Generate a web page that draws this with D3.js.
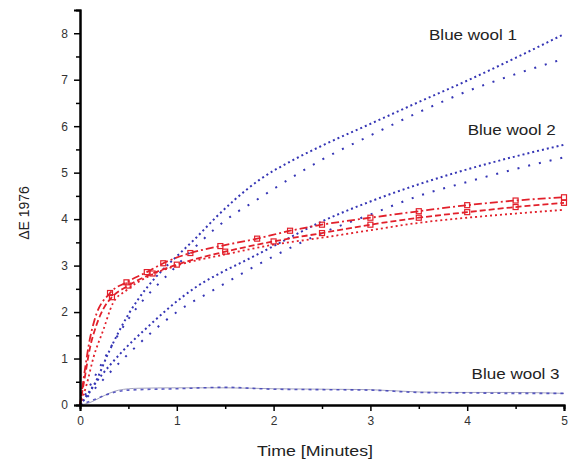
<!DOCTYPE html>
<html><head><meta charset="utf-8">
<script src="https://cdn.jsdelivr.net/npm/d3@7"></script>
<style>body{margin:0;background:#fff}svg{display:block}text{font-family:"Liberation Sans",Arial,sans-serif}</style>
</head><body>
<svg id="c" width="575" height="467"></svg>
<script>
const xTicks = [0,1,2,3,4,5];
const yTicks = [0,1,2,3,4,5,6,7,8];
const bw1A = [[0,0],[0.15,0.45],[0.3,1.15],[0.5,1.95],[0.7,2.55],[0.85,2.9],[1,3.2],[1.2,3.6],[1.4,4.03],[1.6,4.42],[1.85,4.84],[2.2,5.27],[2.5,5.58],[3,6.05],[3.5,6.52],[4,6.98],[4.5,7.47],[5,7.98]];
const bw1B = [[0,0],[0.5,1.85],[1,3.0],[1.2,3.42],[1.4,3.8],[1.6,4.12],[1.8,4.38],[2,4.65],[2.5,5.28],[3,5.8],[3.5,6.3],[4,6.75],[4.5,7.12],[5,7.45]];
const bw2A = [[0,0],[0.17,0.5],[0.45,1.18],[0.7,1.68],[0.93,2.11],[1.2,2.54],[1.45,2.84],[1.72,3.12],[2,3.42],[2.5,3.95],[3,4.38],[3.5,4.75],[4,5.07],[4.5,5.35],[5,5.6]];
const bw2B = [[0,0],[0.5,1.1],[1,2.0],[1.4,2.5],[2,3.2],[2.5,3.7],[3,4.1],[3.5,4.5],[4,4.8],[4.5,5.08],[5,5.33]];
const redA = [[0,0],[0.05,0.75],[0.1,1.4],[0.15,1.83],[0.31,2.41],[0.48,2.64],[0.69,2.86],[0.86,3.05],[1.14,3.27],[1.45,3.42],[1.83,3.58],[2.17,3.75],[2.5,3.88],[3,4.03],[3.5,4.17],[4,4.3],[4.5,4.4],[5,4.47]];
const redB = [[0,0],[0.05,0.6],[0.1,1.2],[0.17,1.72],[0.25,2.1],[0.33,2.32],[0.5,2.57],[0.75,2.83],[1,3.02],[1.5,3.3],[2,3.52],[2.5,3.7],[3,3.88],[3.5,4.03],[4,4.15],[4.5,4.26],[5,4.35]];
const redC = [[0,0],[0.07,0.45],[0.14,1.03],[0.24,1.61],[0.34,2.19],[0.48,2.47],[0.69,2.75],[1,3.0],[1.5,3.24],[2,3.45],[2.5,3.6],[3,3.76],[3.5,3.92],[4,4.03],[4.5,4.12],[5,4.2]];
const bw3A = [[0,0],[0.1,0.05],[0.2,0.15],[0.3,0.25],[0.4,0.32],[0.6,0.36],[1,0.37],[1.5,0.37],[2,0.35],[2.5,0.34],[3,0.33],[3.5,0.28],[4,0.27],[4.5,0.27],[5,0.25]];
const bw3B = [[0,0],[0.15,0.12],[0.3,0.24],[0.5,0.32],[1,0.35],[1.5,0.38],[2,0.34],[2.5,0.33],[3,0.32],[3.5,0.27],[4,0.26],[4.5,0.25],[5,0.25]];
const labels = [["Blue wool 1",4.06,7.85],["Blue wool 2",4.46,5.8],["Blue wool 3",4.5,0.55]];

const svg = d3.select("#c");
const x = d3.scaleLinear().domain([0,5]).range([80,564]);
const y = d3.scaleLinear().domain([0,8.5]).range([405,10]);
const blue = "#3535b5", red = "#e2202b";
const line = d3.line().x(d=>x(d[0])).y(d=>y(d[1])).curve(d3.curveMonotoneX);

function draw(data, color, w, dash, op){
  svg.append("path").attr("d", line(data)).attr("fill","none").attr("stroke",color)
    .attr("stroke-width", w).attr("stroke-dasharray", dash).attr("opacity", op||1);
}
draw(bw3A, "#9a9ab8", 1, null, 0.9);
draw(bw3B, blue, 1.6, "3 4", 0.8);
draw(bw2B, blue, 2, "2 9");
draw(bw2A, blue, 2, "2 3");
draw(bw1B, blue, 2, "2 9");
draw(bw1A, blue, 2, "2 3");
draw(redC, red, 1.8, "2 3");
draw(redB, red, 1.8, "6 3");
draw(redA, red, 1.8, "8 3 2 3");
[redA, redB].forEach(s=>{
  svg.append("g").selectAll("rect").data(s.filter(d=>d[0]>0.3)).join("rect")
    .attr("x",d=>x(d[0])-2.5).attr("y",d=>y(d[1])-2.5).attr("width",5).attr("height",5)
    .attr("fill","none").attr("stroke",red).attr("stroke-width",1.2);
});

svg.append("g").attr("transform","translate(0,405)")
  .call(d3.axisBottom(x).tickValues(xTicks).tickFormat(d3.format("d")).tickSize(6).tickPadding(5));
svg.append("g").attr("transform","translate(80,0)")
  .call(d3.axisLeft(y).tickValues(yTicks).tickFormat(d3.format("d")).tickSize(6).tickPadding(6));
svg.append("g").attr("transform","translate(0,405)")
  .call(d3.axisBottom(x).tickValues(d3.range(0.5,5,1)).tickFormat("").tickSize(4));
svg.append("g").attr("transform","translate(80,0)")
  .call(d3.axisLeft(y).tickValues(d3.range(0.5,8.5,1)).tickFormat("").tickSize(4));
svg.selectAll(".domain").attr("stroke","#000").attr("stroke-width",2);
svg.selectAll(".tick line").attr("stroke","#000").attr("stroke-width",1.5);
svg.selectAll(".tick text").attr("font-size",12).attr("fill","#333");

svg.append("text").attr("x",315).attr("y",456).attr("text-anchor","middle")
  .attr("font-size",15).attr("fill","#222").attr("textLength",116).attr("lengthAdjust","spacingAndGlyphs").text("Time [Minutes]");
svg.append("text").attr("transform","translate(29,213) rotate(-90)").attr("text-anchor","middle")
  .attr("font-size",14).attr("fill","#222").text("ΔE 1976");
svg.append("g").selectAll("text").data(labels).join("text")
  .attr("x",d=>x(d[1])).attr("y",d=>y(d[2])).attr("text-anchor","middle")
  .attr("font-size",14).attr("fill","#222").attr("textLength",88).attr("lengthAdjust","spacingAndGlyphs").text(d=>d[0]);
</script>
</body></html>
